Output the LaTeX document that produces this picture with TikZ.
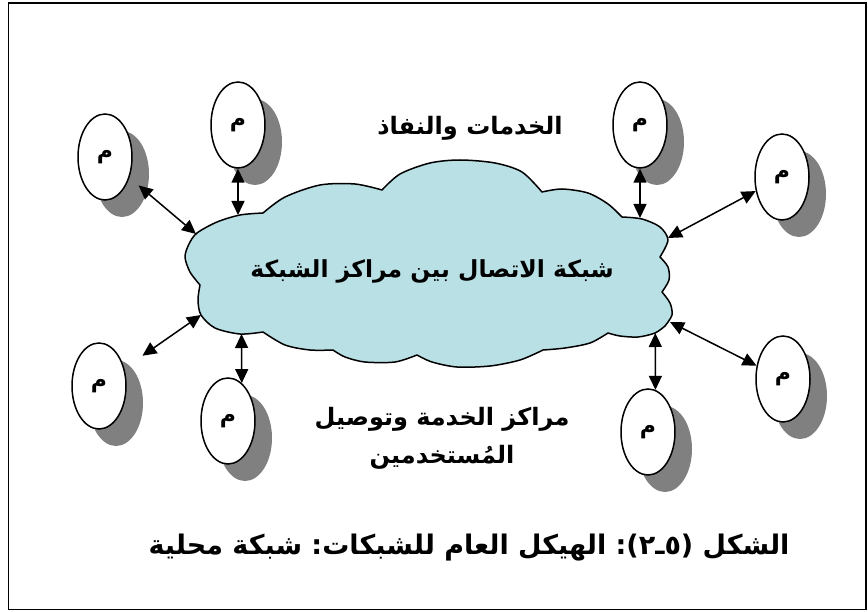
\documentclass[tikz,border=0pt]{standalone}
\usepackage{fontspec}
\TeXXeTstate=1
\newfontfamily\arb[Script=Arabic]{DejaVu Sans}
\newfontfamily\lat{DejaVu Sans}
\usetikzlibrary{shapes.geometric,arrows.meta,shadows}
\definecolor{cloudfill}{RGB}{185,224,228}
\definecolor{shadowgray}{RGB}{128,128,128}
\tikzset{
  station/.style={ellipse,draw,line width=1.5pt,fill=white,minimum width=54pt,minimum height=86pt,inner sep=0pt,
    font=\arb\bfseries\fontsize{22}{26}\selectfont,
    drop shadow={shadow xshift=17pt,shadow yshift=-17pt,fill=shadowgray,opacity=1}},
  lbl/.style={font=\arb\bfseries\fontsize{24}{38}\selectfont,inner sep=0pt,align=center},
  cloudlbl/.style={font=\arb\bfseries\fontsize{23.5}{28}\selectfont,inner sep=0pt},
  caplbl/.style={font=\arb\bfseries\fontsize{27}{32}\selectfont,inner sep=0pt},
  arr/.style={line width=1.5pt,{Triangle[length=14pt,width=13pt]}-{Triangle[length=14pt,width=13pt]}},
  cloudline/.style={draw,line width=1.5pt,line join=round,fill=cloudfill}
}
\begin{document}
\begin{tikzpicture}[x=1pt,y=-1pt]
\useasboundingbox (0,0) rectangle (868,612);
\draw[line width=1.6pt] (8.5,3) rectangle (866,609.5);

% cloud outline
\path[cloudline] (263,213)
  -- plot[smooth] coordinates {(263,213) (285,197) (320,185) (355,184) (382,190)}
  -- plot[smooth] coordinates {(382,190) (400,174) (430,163) (460,160) (495,163) (522,172) (542,192)}
  -- plot[smooth] coordinates {(542,192) (562,189) (588,193) (608,204) (622,217)}
  -- plot[smooth] coordinates {(622,217) (642,219) (660,227) (668,240) (660,257)}
  -- plot[smooth] coordinates {(660,257) (668,267) (669,280) (662,292)}
  -- plot[smooth] coordinates {(662,292) (670,303) (672,315) (665,326)}
  -- plot[smooth] coordinates {(665,326) (655,333) (638,337) (620,336) (608,333)}
  -- plot[smooth] coordinates {(608,333) (590,343) (565,348) (543,350)}
  -- plot[smooth] coordinates {(543,350) (520,360) (490,366) (457,367) (432,362) (417,355)}
  -- plot[smooth] coordinates {(417,355) (395,362) (365,362) (345,357) (333,350)}
  -- plot[smooth] coordinates {(333,350) (310,350) (285,345) (263,332)}
  -- plot[smooth] coordinates {(263,332) (240,334) (215,328) (201,315) (198,300) (200,285)}
  -- plot[smooth] coordinates {(200,285) (190,272) (185,257) (189,244) (197,233) (217,222) (240,215) (263,213)}
  -- cycle;
\node[cloudlbl] (cloudtext) at (432,271) {\beginR شبكة الاتصال بين مراكز الشبكة\endR};

\node[station] (e1) at (105,157) {م};
\node[station] (e2) at (238,125) {م};
\node[station] (e3) at (640,125) {م};
\node[station] (e4) at (782,177) {م};
\node[station] (e5) at (99,386) {م};
\node[station] (e6) at (228,421) {م};
\node[station] (e7) at (648,432) {م};
\node[station] (e8) at (783,379) {م};

\coordinate (cTL1) at (196,234);
\coordinate (cTL2) at (238,215);
\coordinate (cTR1) at (640,218);
\coordinate (cTR2) at (668,238);
\coordinate (cBL1) at (201,315);
\coordinate (cBL2) at (241.5,334);
\coordinate (cBR1) at (655.3,333);
\coordinate (cBR2) at (670,322);

\draw[arr,shorten <=12pt] (e1) -- (cTL1);
\draw[arr] (e2.south) -- (cTL2);
\draw[arr] (e3.south) -- (cTR1);
\draw[arr] (e4) -- (cTR2);
\draw[arr,shorten >=22pt] (cBL1) -- (e5);
\draw[arr] (cBL2) -- (e6.70);
\draw[arr] (cBR1) -- (e7.80);
\draw[arr] (cBR2) -- (e8);

\node[lbl] (top) at (470,128) {\beginR الخدمات والنفاذ\endR};
\node[lbl] (bottom) at (442,438) {\beginR مراكز الخدمة وتوصيل\endR\\\beginR المُستخدمين\endR};
\node[caplbl] (caption) at (469,548) {\beginR الشكل \hbox{\lat)}\hbox{\lat ٥}\hbox{\lat ـ}\hbox{\lat ٢}\hbox{\lat(}\hbox{\lat:} الهيكل العام للشبكات\hbox{\lat:} شبكة محلية\endR};
\end{tikzpicture}
\end{document}
